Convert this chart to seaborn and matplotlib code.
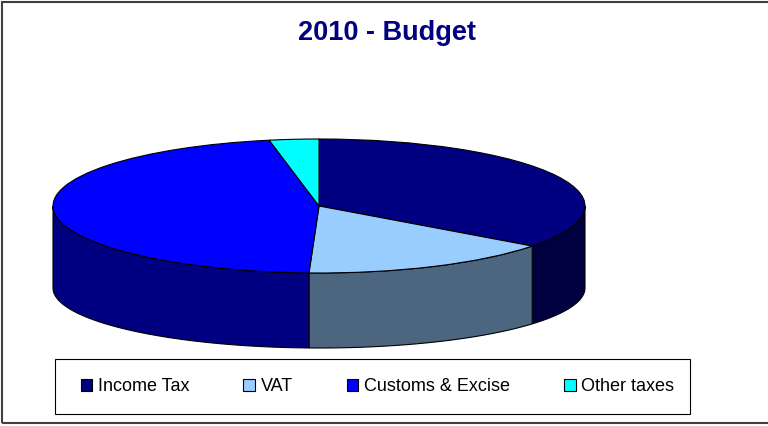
import numpy as np
import matplotlib.pyplot as plt
import seaborn as sns
from matplotlib.patches import Patch, Rectangle

categories = ["Income Tax", "VAT", "Customs & Excise", "Other taxes"]
shares = [35.2, 15.4, 46.4, 3.0]
top_colors = ["#000080", "#99CCFF", "#0000FF", "#00FFFF"]
side_colors = ["#000040", "#4D6680", "#000080", "#008080"]

sns.set_theme(style="white")
plt.rcParams["font.family"] = ["Liberation Sans", "DejaVu Sans"]
plt.rcParams["text.color"] = "black"

W, H = 768, 426
fig = plt.figure(figsize=(W / 100, H / 100), dpi=100)
ax = fig.add_axes([0, 0, 1, 1])

# tilted pie geometry (pixels): centre, radii of top face
cx, cy, rx, ry = 319, 206, 266, 67
bottom_dy, bottom_k = 82 / ry, 60 / ry   # bottom rim, in top-radius units

wedges, _ = ax.pie(shares, colors=top_colors, startangle=90, counterclock=False,
                   wedgeprops=dict(edgecolor="black", linewidth=0.8))
for w in wedges:
    w.set_zorder(3)

# side walls, only the front half of the rim is visible
ends = 90 - 360 * np.cumsum(shares) / sum(shares)
starts = np.r_[90, ends[:-1]]
for a1, a0, col in zip(ends, starts, side_colors):
    lo, hi = max(a1, -180), min(a0, 0)
    if lo >= hi:
        continue
    t = np.radians(np.linspace(lo, hi, 120))
    xs = np.r_[np.cos(t), np.cos(t[::-1])]
    ys = np.r_[np.sin(t), -bottom_dy + bottom_k * np.sin(t[::-1])]
    ax.fill(xs, ys, facecolor=col, edgecolor="black", linewidth=0.8, zorder=2)

ax.set_aspect("auto")
ax.set_xlim(-cx / rx, (W - cx) / rx)
ax.set_ylim((cy - H) / ry, cy / ry)
ax.axis("off")

fig.text(387 / W, 1 - 33 / H, "2010 - Budget", ha="center", va="center",
         fontsize=19.5, fontweight="bold", color="#000080")

# legend box
fig.add_artist(Rectangle((55 / W, 1 - 414 / H), 635 / W, 55 / H, transform=fig.transFigure,
                         fill=False, edgecolor="black", linewidth=0.8))
handles = [Patch(facecolor=c, edgecolor="black", linewidth=0.8) for c in top_colors]
fig.legend(handles, categories, ncol=4, loc="center",
           bbox_to_anchor=(377.5 / W, 1 - 386.5 / H), frameon=False, fontsize=13,
           handlelength=0.63, handleheight=0.63, handletextpad=0.32, columnspacing=3.0)

# chart area border (right edge runs off the image)
fig.add_artist(Rectangle((2 / W, 1 - 423 / H), 1.0, 421 / H, transform=fig.transFigure,
                         fill=False, edgecolor="#404040", linewidth=1.5, clip_on=False))

fig.savefig("out.png", dpi=100)
